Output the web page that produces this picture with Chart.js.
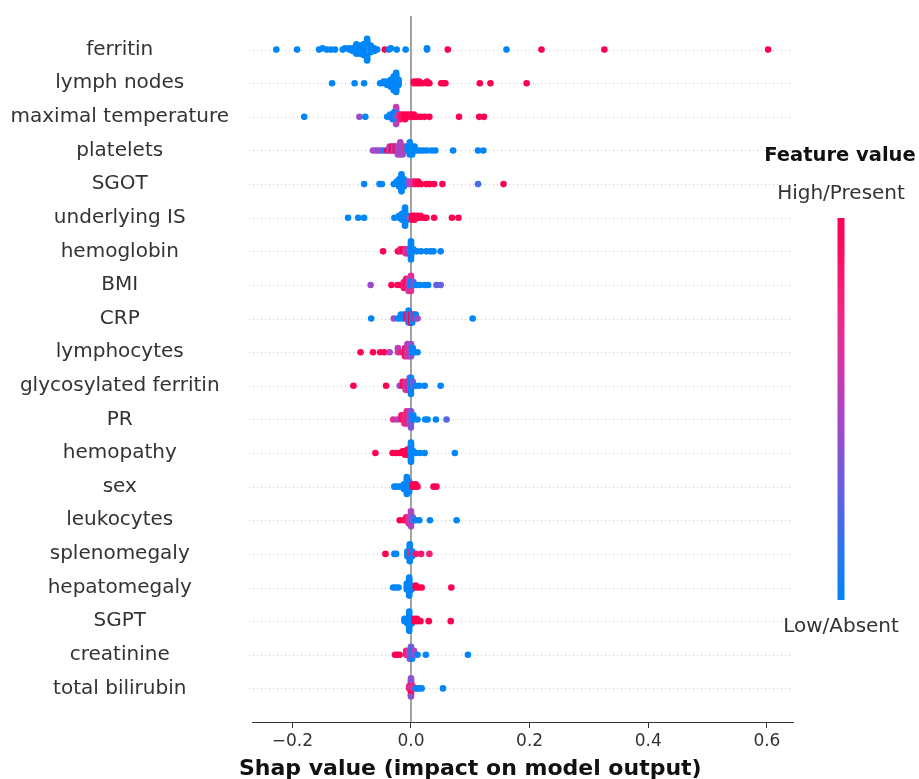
<!DOCTYPE html>
<html><head><meta charset="utf-8">
<script src="https://cdn.jsdelivr.net/npm/chart.js@4.4.1/dist/chart.umd.min.js"></script>
<style>html,body{margin:0;padding:0;background:#fff;}canvas{display:block;}</style>
</head><body>
<canvas id="c" width="919" height="779"></canvas>
<script>
// ---- DATA ----
const features = ['ferritin','lymph nodes','maximal temperature','platelets','SGOT','underlying IS','hemoglobin','BMI','CRP','lymphocytes','glycosylated ferritin','PR','hemopathy','sex','leukocytes','splenomegaly','hepatomegaly','SGPT','creatinine','total bilirubin'];

// each entry: [shap value, feature value (0 = low/absent, 1 = high/present), number of patients]
const ferritinShap = [[-0.227,0,1],[-0.192,0,1],[-0.155,0,1],[-0.149,0,1],[-0.142,0,1],[-0.135,0,1],[-0.128,0,1],[-0.115,0,1],[-0.111,0,1],[-0.104,0,2],[-0.098,0,3],[-0.092,0,5],[-0.086,0,7],[-0.080,0,9],[-0.074,0,8],[-0.068,0,6],[-0.062,0,3],[-0.057,0,1],[-0.044,1,1],[-0.037,0,1],[-0.034,0,1],[-0.024,0,1],[-0.009,0,1],[0.027,0,2],[0.062,1,1],[0.161,0,1],[0.220,1,1],[0.326,1,1],[0.602,1,1]];
const lymphNodesShap = [[-0.133,0,1],[-0.095,0,1],[-0.079,0,1],[-0.052,0,1],[-0.046,0,2],[-0.040,0,3],[-0.034,0,5],[-0.029,0,9],[-0.025,0,12],[-0.021,0,4],[0.005,1,2],[0.010,1,2],[0.014,1,2],[0.019,1,1],[0.027,1,2],[0.031,1,1],[0.051,1,1],[0.055,1,1],[0.058,1,1],[0.116,1,1],[0.134,1,1],[0.195,1,1]];
const maxTempShap = [[-0.180,0,1],[-0.087,0.45,1],[-0.077,0,1],[-0.040,0,1],[-0.035,0,2],[-0.031,0.1,3],[-0.028,0,4],[-0.025,0.45,3],[-0.025,0,3],[-0.025,0.55,2],[-0.021,0.6,2],[-0.018,0.85,3],[-0.014,0.9,2],[-0.010,1,3],[-0.005,1,2],[0.000,0.95,2],[0.005,1,2],[0.011,1,1],[0.017,1,1],[0.023,1,1],[0.031,1,1],[0.081,1,1],[0.115,1,1],[0.123,1,1]];
const plateletsShap = [[-0.064,0.45,1],[-0.059,0.45,1],[-0.055,0.45,1],[-0.050,0.4,1],[-0.045,0,1],[-0.040,1,1],[-0.036,0.55,2],[-0.032,1,2],[-0.029,0.45,2],[-0.026,0.9,2],[-0.022,0.45,3],[-0.018,0.5,4],[-0.014,0.45,3],[-0.010,0.7,2],[-0.006,0,2],[-0.002,0,4],[0.002,0,3],[0.006,0,2],[0.011,0,1],[0.016,0,1],[0.021,0,1],[0.027,0,1],[0.035,0,1],[0.041,0,1],[0.071,0,1],[0.113,0,1],[0.122,0,1]];
const sgotShap = [[-0.079,0,1],[-0.053,0,1],[-0.049,0,1],[-0.029,0,1],[-0.024,0,2],[-0.020,0,4],[-0.016,0,8],[-0.012,0,4],[-0.008,0,2],[-0.004,0.45,2],[0.002,0.6,2],[0.007,0.9,2],[0.012,1,2],[0.017,1,1],[0.026,1,1],[0.032,1,1],[0.039,1,1],[0.053,1,1],[0.113,0.2,1],[0.156,1,1]];
const underlyingISShap = [[-0.106,0,1],[-0.089,0,1],[-0.079,0,1],[-0.028,0,1],[-0.020,0,2],[-0.015,0,4],[-0.010,0,10],[-0.006,0,3],[-0.002,0.5,1],[0.002,1,3],[0.006,1,3],[0.011,1,2],[0.016,1,2],[0.022,1,1],[0.026,1,1],[0.039,1,1],[0.069,1,1],[0.080,1,1]];
const hemoglobinShap = [[-0.047,1,1],[-0.022,1,1],[-0.018,0.85,2],[-0.013,1,2],[-0.009,0.6,3],[-0.005,0.8,3],[-0.003,0.5,2],[0.000,0,10],[0.004,0,2],[0.010,0,1],[0.017,0,1],[0.026,0,1],[0.033,0,1],[0.038,0,1],[0.050,0,1]];
const bmiShap = [[-0.068,0.45,1],[-0.033,1,1],[-0.023,0.9,1],[-0.018,1,1],[-0.012,0.8,3],[-0.008,0.9,4],[-0.004,0.6,5],[0.000,0,4],[0.000,0.7,2],[0.004,0.3,2],[0.009,0,1],[0.015,0,1],[0.023,0,1],[0.029,0,1],[0.043,0.25,1],[0.050,0.3,1]];
const crpShap = [[-0.067,0,1],[-0.029,0.45,1],[-0.022,0,1],[-0.017,0,2],[-0.012,0,2],[-0.008,0.9,2],[-0.004,0,4],[-0.002,0.6,3],[0.000,1,3],[0.002,0,3],[0.005,0.8,2],[0.008,0,2],[0.011,0.45,1],[0.104,0,1]];
const lymphocytesShap = [[-0.085,1,1],[-0.064,1,1],[-0.052,0.95,1],[-0.045,1,1],[-0.036,0.5,1],[-0.022,0.55,2],[-0.017,0.8,1],[-0.010,0.9,3],[-0.006,0.55,4],[-0.003,0.7,3],[0.000,0.4,4],[0.003,0,2],[0.006,0,1],[0.011,0,1]];
const glycFerritinShap = [[-0.097,1,1],[-0.042,1,1],[-0.019,0.45,1],[-0.014,0.9,2],[-0.009,0.6,3],[-0.005,0.8,3],[-0.002,0.5,4],[0.000,0,5],[0.003,0.3,2],[0.008,0,1],[0.014,0,1],[0.023,0,1],[0.050,0,1]];
const prShap = [[-0.030,0.7,1],[-0.023,0.5,1],[-0.016,0.9,2],[-0.011,0.75,3],[-0.007,0.8,4],[-0.003,0.6,4],[0.000,0.35,5],[0.004,0,2],[0.011,0,1],[0.024,0,1],[0.028,0,1],[0.042,0,1],[0.060,0.25,1]];
const hemopathyShap = [[-0.060,1,1],[-0.031,1,1],[-0.025,1,1],[-0.019,1,1],[-0.014,1,2],[-0.010,1,3],[-0.006,1,4],[-0.003,1,3],[0.000,0,12],[0.004,0,2],[0.008,0,1],[0.015,0,1],[0.023,0,1],[0.074,0,1]];
const sexShap = [[-0.028,0,1],[-0.024,0,1],[-0.019,0,1],[-0.012,0,3],[-0.007,0,8],[-0.003,0,5],[0.003,1,2],[0.008,1,2],[0.011,1,1],[0.038,1,1],[0.043,1,1]];
const leukocytesShap = [[-0.019,1,1],[-0.012,1,1],[-0.008,0.9,2],[-0.004,0.7,3],[-0.002,0.6,3],[0.000,0.5,6],[0.003,0.3,2],[0.008,0,1],[0.014,0,1],[0.032,0,1],[0.077,0,1]];
const splenomegalyShap = [[-0.043,1,1],[-0.028,0,1],[-0.025,0,1],[-0.006,0,3],[-0.002,0,8],[0.000,0.8,2],[0.002,0,3],[0.008,0.85,1],[0.017,0.85,1],[0.031,0.8,1]];
const hepatomegalyShap = [[-0.030,0,1],[-0.026,0,1],[-0.021,0,1],[-0.007,0,4],[-0.003,0,10],[0.001,0,3],[0.008,1,2],[0.013,1,1],[0.018,1,1],[0.068,1,1]];
const sgptShap = [[-0.011,0,2],[-0.006,0,3],[-0.003,0,9],[0.001,0,3],[0.006,1,2],[0.010,1,2],[0.016,1,1],[0.030,1,1],[0.067,1,1]];
const creatinineShap = [[-0.027,1,1],[-0.023,1,1],[-0.019,1,1],[-0.008,0.85,2],[-0.004,0.6,2],[-0.002,0.5,3],[0.000,0.3,4],[0.002,0,3],[0.005,0.5,2],[0.011,0,1],[0.025,0,1],[0.096,0,1]];
const totalBilirubinShap = [[-0.003,0.8,2],[0.000,0.6,4],[0.000,0.95,3],[0.000,0.4,3],[0.003,0.7,2],[0.008,0,1],[0.011,0,1],[0.014,0,1],[0.018,0,1],[0.054,0,1]];

const rowData = [ferritinShap, lymphNodesShap, maxTempShap, plateletsShap, sgotShap, underlyingISShap, hemoglobinShap, bmiShap, crpShap, lymphocytesShap, glycFerritinShap, prShap, hemopathyShap, sexShap, leukocytesShap, splenomegalyShap, hepatomegalyShap, sgptShap, creatinineShap, totalBilirubinShap];

const xTickValues = [-0.2, 0, 0.2, 0.4, 0.6];
const xTickLabels = ['\u22120.2', '0.0', '0.2', '0.4', '0.6'];
const xTitle = 'Shap value (impact on model output)';
const colorbarTitle = 'Feature value';
const colorbarHigh = 'High/Present';
const colorbarLow = 'Low/Absent';

// ---- STYLE ----
const FONT = "'DejaVu Sans', Verdana, sans-serif";
const cmapStops = [[0,[0,134,248]],[0.2,[70,106,232]],[0.4,[140,82,210]],[0.5,[175,68,195]],[0.6,[205,56,172]],[0.75,[240,40,132]],[1,[255,0,81]]];
function featureColor(t){
  for(let i=1;i<cmapStops.length;i++){
    const [t1,c1]=cmapStops[i-1],[t2,c2]=cmapStops[i];
    if(t<=t2){const u=(t-t1)/(t2-t1);return 'rgb('+c1.map((v,k)=>Math.round(v+(c2[k]-v)*u)).join(',')+')';}
  }
  return 'rgb(255,0,81)';
}

// beeswarm layout (same rule as shap: bin values, stack points alternately up/down)
function swarm(entries,row){
  const pts=[];
  entries.forEach(([v,f,n])=>{for(let k=0;k<n;k++)pts.push({v,f});});
  const vals=pts.map(p=>p.v);
  const mn=Math.min(...vals),mx=Math.max(...vals);
  const q=pts.map(p=>Math.round(100*(p.v-mn)/(mx-mn+1e-8)));
  const order=pts.map((_,i)=>i).sort((a,b)=>q[a]-q[b]||a-b);
  const ys=new Array(pts.length).fill(0);
  let layer=0,last=-1;
  for(const i of order){if(q[i]!==last)layer=0;ys[i]=Math.ceil(layer/2)*((layer%2)*2-1);layer++;last=q[i];}
  const m=Math.max(...ys.map(y=>y+1));
  const s=0.9*0.4/m;
  return pts.map((p,i)=>({x:p.v,y:row-ys[i]*s,f:p.f}));
}

const datasets=rowData.map((entries,i)=>{
  const pts=swarm(entries,i);
  return {
    data:pts.map(p=>({x:p.x,y:p.y})),
    pointBackgroundColor:pts.map(p=>featureColor(p.f)),
    pointBorderWidth:0,
    pointRadius:3.3,
    pointHoverRadius:3.3
  };
});

const decor={
  id:'decor',
  beforeDatasetsDraw(chart){
    const {ctx,chartArea:a,scales:{x,y}}=chart;
    ctx.save();
    ctx.strokeStyle='#c8c8c8';ctx.lineWidth=1;ctx.setLineDash([1,3]);
    features.forEach((_,i)=>{
      const py=Math.round(y.getPixelForValue(i))+0.5;
      ctx.beginPath();ctx.moveTo(a.left-3,py);ctx.lineTo(a.right,py);ctx.stroke();
    });
    ctx.setLineDash([]);
    const zx=x.getPixelForValue(0);
    ctx.strokeStyle='#999999';ctx.lineWidth=1.8;
    ctx.beginPath();ctx.moveTo(zx,a.top);ctx.lineTo(zx,a.bottom);ctx.stroke();
    ctx.restore();
  },
  afterDraw(chart){
    const {ctx,chartArea:a,scales:{x}}=chart;
    ctx.save();
    // x-axis title
    ctx.fillStyle='#111';ctx.font="bold 22px "+FONT;ctx.textAlign='center';ctx.textBaseline='middle';
    ctx.fillText(xTitle,x.getPixelForValue(0.1),769);
    // colorbar
    const cx=a.right+48, top=a.top+202, bot=a.top+584, w=7;
    const g=ctx.createLinearGradient(0,bot,0,top);
    for(let i=0;i<=20;i++){g.addColorStop(i/20,featureColor(i/20));}
    ctx.fillStyle=g;ctx.fillRect(cx-w/2,top,w,bot-top);
    ctx.fillStyle='#111';ctx.font="bold 19.5px "+FONT;
    ctx.fillText(colorbarTitle,cx-1,156);
    ctx.fillStyle='#333';ctx.font="20px "+FONT;
    ctx.fillText(colorbarHigh,cx,194);
    ctx.fillText(colorbarLow,cx,627);
    ctx.restore();
  }
};

new Chart(document.getElementById('c'),{
  type:'scatter',
  data:{datasets},
  options:{
    responsive:false,animation:false,devicePixelRatio:1,
    layout:{padding:{top:16,right:126,bottom:0,left:0}},
    plugins:{legend:{display:false},tooltip:{enabled:false}},
    events:[],
    scales:{
      x:{
        type:'linear',min:-0.268,max:0.644,
        afterBuildTicks(s){s.ticks=xTickValues.map(v=>({value:v}));},
        afterFit(s){s.height=57;s.paddingLeft=0;s.paddingRight=0;},
        ticks:{callback:(v,i)=>xTickLabels[i],color:'#333',font:{family:FONT,size:17},padding:3,maxRotation:0,autoSkip:false},
        grid:{display:true,drawOnChartArea:false,drawTicks:true,tickLength:6,tickColor:'#333',tickWidth:1},
        border:{display:true,color:'#333',width:1}
      },
      y:{
        type:'linear',min:-1,max:20,reverse:true,
        afterBuildTicks(s){s.ticks=features.map((_,i)=>({value:i}));},
        afterFit(s){s.width=252;s.paddingTop=0;s.paddingBottom=0;},
        ticks:{callback:(v)=>features[v],color:'#333',font:{family:FONT,size:20},crossAlign:'center',padding:15,autoSkip:false},
        grid:{display:false},
        border:{display:false}
      }
    }
  },
  plugins:[decor]
});
</script>
</body></html>
